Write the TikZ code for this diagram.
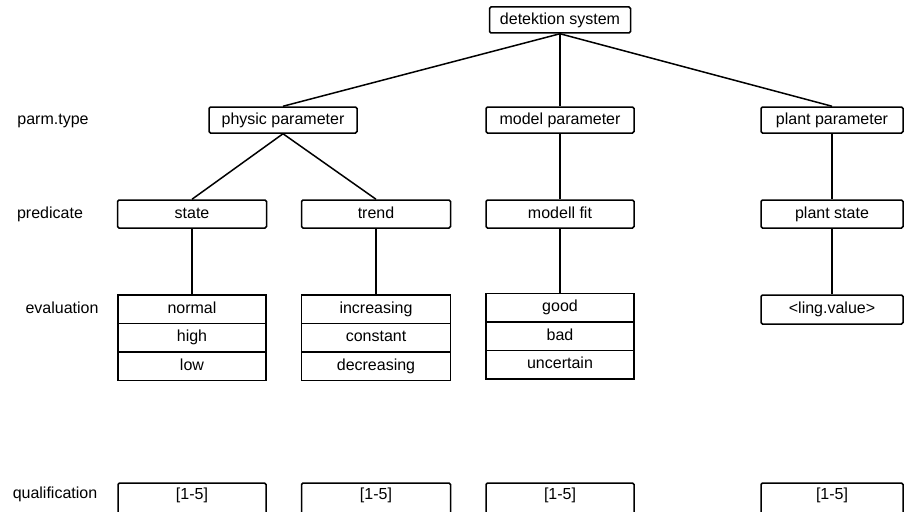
\documentclass[tikz,border=0pt]{standalone}
\usepackage{fontspec}
\setmainfont{Liberation Sans}
\begin{document}
\begin{tikzpicture}[x=1pt,y=-1pt,
  every node/.style={font=\fontsize{16}{19}\selectfont},
  frame/.style={draw, line width=1.5pt, rounded corners=1.5pt, inner sep=0pt,
    text height=11.5pt, text depth=3.4pt},
  wide/.style={frame, minimum width=148pt},
  narrow/.style={frame, minimum width=142pt},
  hdr/.style={minimum height=26pt},
  pred/.style={minimum height=28pt},
  row/.style={sharp corners, minimum height=28.5pt},
  qbox/.style={frame, minimum height=36pt, text height=10pt, text depth=14pt},
  lbl/.style={inner sep=0pt, text height=11.5pt, text depth=3.4pt},
  conn/.style={line width=1.5pt}]
\useasboundingbox (0,0) rectangle (904,511);

% row labels
\node[lbl] (lparm) at (53,120) {parm.type};
\node[lbl] (lpred) at (50,214) {predicate};
\node[lbl] (leval) at (62,309) {evaluation};
\node[lbl] (lqual) at (55,494) {qualification};

% root and parameter types
\node[frame, minimum width=141pt, hdr] (root) at (560,20) {detektion system};
\node[wide, hdr] (phys) at (283,120) {physic parameter};
\node[wide, hdr] (model) at (560,120) {model parameter};
\node[narrow, hdr] (plant) at (832,120) {plant parameter};

% predicates
\node[wide, minimum width=149pt, pred] (state) at (192,214) {state};
\node[wide, minimum width=149pt, pred] (trend) at (376,214) {trend};
\node[wide, pred] (fit) at (560,214) {modell fit};
\node[narrow, pred] (pstate) at (832,214) {plant state};

% evaluations
\node[wide, row] (normal) at (192,309.25) {normal};
\node[wide, row] (high) at (192,337.75) {high};
\node[wide, row] (low) at (192,366.25) {low};
\node[wide, minimum width=149pt, row] (incr) at (376,309.25) {increasing};
\node[wide, minimum width=149pt, row] (const) at (376,337.75) {constant};
\node[wide, minimum width=149pt, row] (decr) at (376,366.25) {decreasing};
\node[wide, row] (good) at (560,307.5) {good};
\node[wide, row] (bad) at (560,336) {bad};
\node[wide, row] (unc) at (560,364.5) {uncertain};
\node[narrow, minimum height=29pt] (ling) at (832,309.5) {\textless ling.value\textgreater};

% qualifications
\node[qbox, minimum width=148pt] (q1) at (192,501) {[1-5]};
\node[qbox, minimum width=149pt] (q2) at (376,501) {[1-5]};
\node[qbox, minimum width=148pt] (q3) at (560,501) {[1-5]};
\node[qbox, minimum width=142pt] (q4) at (832,501) {[1-5]};

% connectors
\draw[conn] (root.south) -- (phys.north);
\draw[conn] (root.south) -- (model.north);
\draw[conn] (root.south) -- (plant.north);
\draw[conn] (phys.south) -- (state.north);
\draw[conn] (phys.south) -- (trend.north);
\draw[conn] (model.south) -- (fit.north);
\draw[conn] (plant.south) -- (pstate.north);
\draw[conn] (state.south) -- (normal.north);
\draw[conn] (trend.south) -- (incr.north);
\draw[conn] (fit.south) -- (good.north);
\draw[conn] (pstate.south) -- (ling.north);
\end{tikzpicture}
\end{document}
